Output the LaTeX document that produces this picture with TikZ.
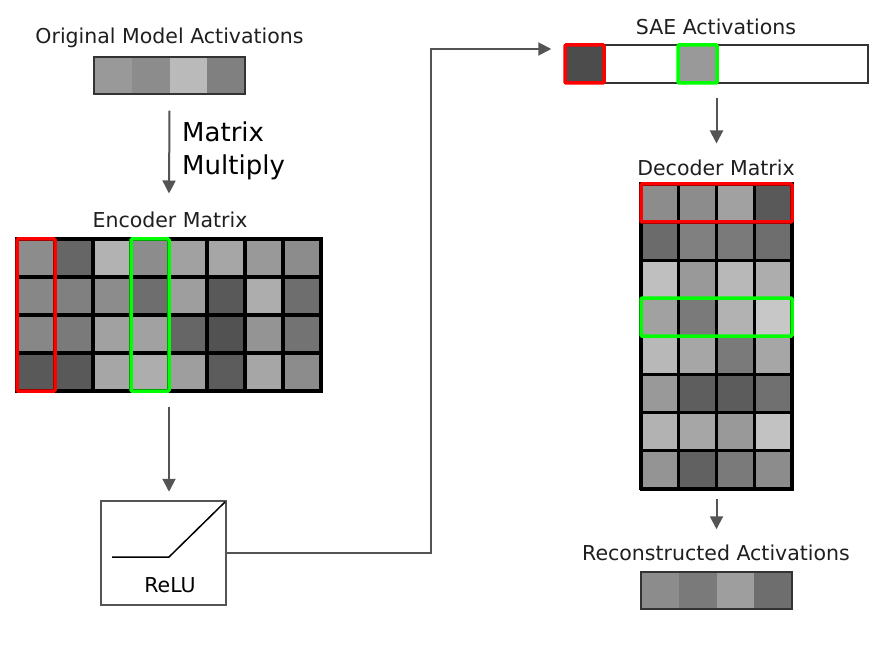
\documentclass[tikz,border=0pt]{standalone}
\usepackage{fontspec}
\setmainfont{DejaVu Sans}
\usetikzlibrary{arrows.meta,positioning}
\begin{document}
\begin{tikzpicture}[x=1pt,y=-1pt,
  lbl/.style={font=\fontsize{20.5}{24}\selectfont, text=black!88, inner sep=0pt},
  big/.style={font=\fontsize{26}{35}\selectfont, text=black, inner sep=0pt, anchor=west},
  cellbox/.style={draw=black, line width=3.2pt},
  frame/.style={draw=black, line width=3pt, inner sep=0pt},
  barframe/.style={draw=black!80, line width=1.5pt, inner sep=0pt},
  hlred/.style={draw=red, line width=3.5pt, rounded corners=1pt},
  hlgreen/.style={draw=green, line width=3.5pt, rounded corners=1pt},
  arr/.style={draw=black!67, line width=2pt, -{Triangle[width=13pt,length=13pt]}},
  conn/.style={draw=black!67, line width=2pt}
]
\useasboundingbox (0,0) rectangle (888,652);
\fill[white] (0,0) rectangle (888,652);

% ---------- Original activations ----------
\node[lbl] (origlbl) at (169.5,38) {Original Model Activations};
\foreach \v [count=\c from 0] in {40,45,27,50}
  \fill[black!\v] (94+\c*37.75,57) rectangle ++(37.75,37);
\node[barframe, minimum width=151pt, minimum height=37pt] (orig) at (169.5,75.5) {};

\node[big] (mm1) at (182,132) {Matrix};
\node[big] (mm2) at (182,167) {Multiply};

% ---------- Encoder ----------
\node[lbl] (enclbl) at (170,220) {Encoder Matrix};
\foreach \row [count=\r from 0] in {{45,60,30,45,37,35,40,45},{47,50,45,57,38,65,32,57},{47,52,37,37,60,68,42,55},{65,65,35,32,38,64,35,45}}
  \foreach \v [count=\c from 0] in \row
    \filldraw[cellbox, fill=black!\v] (17+\c*38,239+\r*38) rectangle ++(38,38);
\node[frame, minimum width=304pt, minimum height=152pt] (enc) at (169,315) {};
\draw[hlred] (17,239) rectangle (55,391);
\draw[hlgreen] (131,239) rectangle (169,391);

% ---------- ReLU ----------
\node[draw=black!67, line width=2.5pt, minimum width=125pt, minimum height=104pt, inner sep=0pt] (relu) at (163.5,553) {};
\coordinate (r1) at (112,557);
\coordinate (r2) at (169,557);
\coordinate (r3) at (225,502);
\draw[black, line width=1.5pt] (r1) -- (r2) -- (r3);
\node[lbl, text=black] (relulbl) at (170,585) {ReLU};

% ---------- SAE activations ----------
\node[lbl] (saelbl) at (716,27) {SAE Activations};
\node[barframe, fill=white, minimum width=303pt, minimum height=38pt] (sae) at (716.5,64) {};
\fill[black!70] (565,45) rectangle (604,83);
\draw[hlred] (565,45) rectangle (604,83);
\fill[black!40] (678,45) rectangle (717,83);
\draw[hlgreen] (678,45) rectangle (717,83);

% ---------- Decoder ----------
\node[lbl] (declbl) at (716,168) {Decoder Matrix};
\foreach \row [count=\r from 0] in {{45,45,37,65},{58,50,52,57},{25,40,28,32},{37,52,30,22},{28,35,52,35},{40,63,64,56},{30,35,40,24},{42,62,52,45}}
  \foreach \v [count=\c from 0] in \row
    \filldraw[cellbox, fill=black!\v] (641+\c*37.75,184+\r*38.1) rectangle ++(37.75,38.1);
\node[frame, minimum width=151pt, minimum height=305pt] (dec) at (716.5,336.5) {};
\draw[hlred] (641,184) rectangle (792,222);
\draw[hlgreen] (641,298) rectangle (792,336);

% ---------- Reconstructed ----------
\node[lbl] (reclbl) at (716,553) {Reconstructed Activations};
\foreach \v [count=\c from 0] in {45,52,38,57}
  \fill[black!\v] (641+\c*37.75,572) rectangle ++(37.75,37);
\node[barframe, minimum width=151pt, minimum height=37pt] (rec) at (716.5,590.5) {};

% ---------- Connectors ----------
\coordinate (encout) at ([yshift=-14pt]enc.south);
\coordinate (reluin) at ([yshift=8pt]relu.north);
\coordinate (saein) at ([xshift=-13pt,yshift=15pt]sae.west);
\draw[arr] ([yshift=-16pt]orig.south) -- ([yshift=44pt]enc.north);
\draw[arr] (encout) -- (encout |- reluin);
\draw[arr] (relu.east) -- ++(204,0) |- (saein);
\draw[arr] ([yshift=-14pt]sae.south) -- ([yshift=39pt]dec.north);
\draw[arr] ([yshift=-8pt]dec.south) -- ([yshift=42pt]rec.north);
\end{tikzpicture}
\end{document}
